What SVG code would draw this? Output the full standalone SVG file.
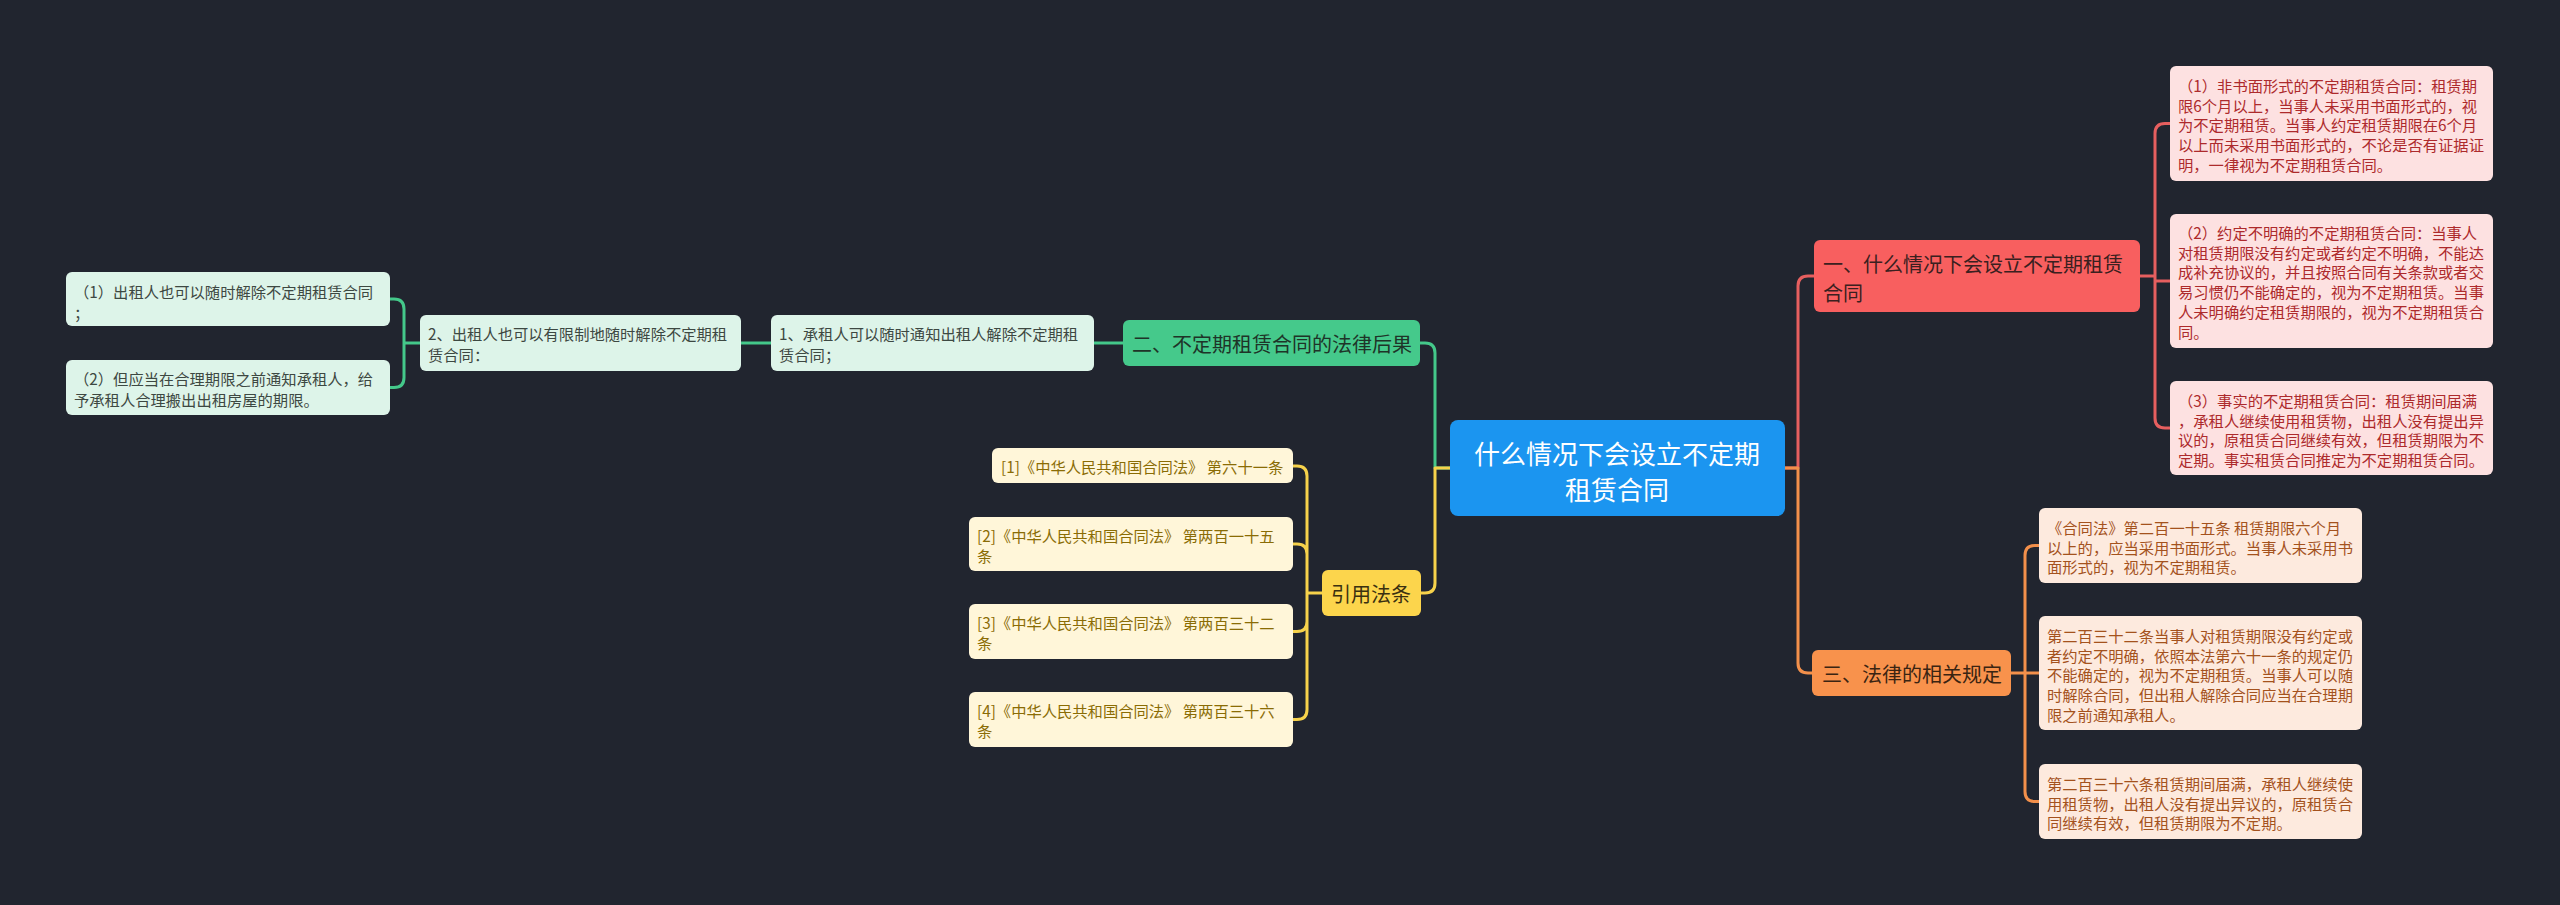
<svg xmlns="http://www.w3.org/2000/svg" width="2560" height="905" viewBox="0 0 2560 905">
<style>
text{font-family:"Noto Sans CJK SC","Noto Sans",sans-serif;dominant-baseline:central}
.c{fill:none;stroke-width:3;stroke-linecap:round;stroke-linejoin:round}
.red{stroke:#e65f5f}.org{stroke:#f3904b}.grn{stroke:#44c88a}.yel{stroke:#f6d24b}
.leaf{font-size:15.3px}
.rt{fill:#ad2a2c}.ot{fill:#a4521d}.gt{fill:#3d4842}.yt{fill:#8a6c05}
.l1{font-size:20px}
</style>
<rect width="2560" height="905" fill="#21252f"/>
<g id="connectors">
<path class="c red" d="M1785 468 H1798 V286 Q1798 276 1808 276 H1814"/>
<path class="c org" d="M1785 468 H1798 V663 Q1798 673 1808 673 H1812"/>
<path class="c red" d="M2140 276 H2155 M2155 276 V133.5 Q2155 123.5 2165 123.5 H2170 M2155 276 V418 Q2155 428 2165 428 H2170 M2155 276 V281 H2170"/>
<path class="c org" d="M2011 673 H2039 M2025 673 V555.5 Q2025 545.5 2035 545.5 H2039 M2025 673 V791.5 Q2025 801.5 2035 801.5 H2039"/>
<path class="c grn" d="M1450 468 H1435 V353 Q1435 343 1425 343 H1420"/>
<path class="c yel" d="M1450 468 H1435 V583 Q1435 593 1425 593 H1421"/>
<path class="c grn" d="M1123 343 H1094 M771 343 H741 M420 343 H404 M404 343 V309 Q404 299 394 299 H390 M404 343 V377.5 Q404 387.5 394 387.5 H390"/>
<path class="c yel" d="M1322 593 H1307 M1307 593 V476 Q1307 466 1297 466 H1293 M1307 593 V554 Q1307 544 1297 544 H1293 M1307 593 V621.5 Q1307 631.5 1297 631.5 H1293 M1307 593 V709.5 Q1307 719.5 1297 719.5 H1293"/>
</g>
<g id="root">
<rect x="1450" y="420" width="335" height="96" rx="8" fill="#1b95f0"/>
<text x="1617" y="452" font-size="26" fill="#ffffff" text-anchor="middle">什么情况下会设立不定期</text>
<text x="1617" y="488" font-size="26" fill="#ffffff" text-anchor="middle">租赁合同</text>
</g>
<g id="n1">
<rect x="1814" y="240" width="326" height="72" rx="6" fill="#f85f5f"/>
<text class="l1" x="1823" y="263" fill="#3a2020">一、什么情况下会设立不定期租赁</text>
<text class="l1" x="1823" y="292" fill="#3a2020">合同</text>
</g>
<g id="n1a">
<rect x="2170" y="66" width="323" height="115" rx="6" fill="#fde1e1"/>
<text class="leaf rt" x="2178"><tspan x="2178" y="85">（1）非书面形式的不定期租赁合同：租赁期</tspan><tspan x="2178" y="104.7">限6个月以上，当事人未采用书面形式的，视</tspan><tspan x="2178" y="124.4">为不定期租赁。当事人约定租赁期限在6个月</tspan><tspan x="2178" y="144.1">以上而未采用书面形式的，不论是否有证据证</tspan><tspan x="2178" y="163.8">明，一律视为不定期租赁合同。</tspan></text>
</g>
<g id="n1b">
<rect x="2170" y="214" width="323" height="134" rx="6" fill="#fde1e1"/>
<text class="leaf rt"><tspan x="2178" y="232">（2）约定不明确的不定期租赁合同：当事人</tspan><tspan x="2178" y="251.7">对租赁期限没有约定或者约定不明确，不能达</tspan><tspan x="2178" y="271.4">成补充协议的，并且按照合同有关条款或者交</tspan><tspan x="2178" y="291.1">易习惯仍不能确定的，视为不定期租赁。当事</tspan><tspan x="2178" y="310.8">人未明确约定租赁期限的，视为不定期租赁合</tspan><tspan x="2178" y="330.5">同。</tspan></text>
</g>
<g id="n1c">
<rect x="2170" y="381" width="323" height="94" rx="6" fill="#fde1e1"/>
<text class="leaf rt"><tspan x="2178" y="400">（3）事实的不定期租赁合同：租赁期间届满</tspan><tspan x="2178" y="419.7">，承租人继续使用租赁物，出租人没有提出异</tspan><tspan x="2178" y="439.4">议的，原租赁合同继续有效，但租赁期限为不</tspan><tspan x="2178" y="459.1">定期。事实租赁合同推定为不定期租赁合同。</tspan></text>
</g>
<g id="n3">
<rect x="1812" y="650" width="199" height="46" rx="6" fill="#f8924c"/>
<text class="l1" x="1822" y="673" fill="#3a2412">三、法律的相关规定</text>
</g>
<g id="n3a">
<rect x="2039" y="508" width="323" height="75" rx="6" fill="#fdeade"/>
<text class="leaf ot"><tspan x="2047" y="527">《合同法》第二百一十五条 租赁期限六个月</tspan><tspan x="2047" y="546.7">以上的，应当采用书面形式。当事人未采用书</tspan><tspan x="2047" y="566.4">面形式的，视为不定期租赁。</tspan></text>
</g>
<g id="n3b">
<rect x="2039" y="616" width="323" height="114" rx="6" fill="#fdeade"/>
<text class="leaf ot"><tspan x="2047" y="635">第二百三十二条当事人对租赁期限没有约定或</tspan><tspan x="2047" y="654.7">者约定不明确，依照本法第六十一条的规定仍</tspan><tspan x="2047" y="674.4">不能确定的，视为不定期租赁。当事人可以随</tspan><tspan x="2047" y="694.1">时解除合同，但出租人解除合同应当在合理期</tspan><tspan x="2047" y="713.8">限之前通知承租人。</tspan></text>
</g>
<g id="n3c">
<rect x="2039" y="764" width="323" height="75" rx="6" fill="#fdeade"/>
<text class="leaf ot"><tspan x="2047" y="783">第二百三十六条租赁期间届满，承租人继续使</tspan><tspan x="2047" y="802.7">用租赁物，出租人没有提出异议的，原租赁合</tspan><tspan x="2047" y="822.4">同继续有效，但租赁期限为不定期。</tspan></text>
</g>
<g id="n2">
<rect x="1123" y="320" width="297" height="46" rx="6" fill="#45c98b"/>
<text class="l1" x="1132" y="343" fill="#1e3428">二、不定期租赁合同的法律后果</text>
</g>
<g id="n2a">
<rect x="771" y="315" width="323" height="56" rx="6" fill="#ddf4e9"/>
<text class="leaf gt"><tspan x="779" y="333">1、承租人可以随时通知出租人解除不定期租</tspan><tspan x="779" y="354">赁合同；</tspan></text>
</g>
<g id="n2b">
<rect x="420" y="315" width="321" height="56" rx="6" fill="#ddf4e9"/>
<text class="leaf gt"><tspan x="428" y="333">2、出租人也可以有限制地随时解除不定期租</tspan><tspan x="428" y="354">赁合同：</tspan></text>
</g>
<g id="n2b1">
<rect x="66" y="272" width="324" height="54" rx="6" fill="#ddf4e9"/>
<text class="leaf gt"><tspan x="74" y="291">（1）出租人也可以随时解除不定期租赁合同</tspan><tspan x="74" y="312">；</tspan></text>
</g>
<g id="n2b2">
<rect x="66" y="360" width="324" height="55" rx="6" fill="#ddf4e9"/>
<text class="leaf gt"><tspan x="74" y="378">（2）但应当在合理期限之前通知承租人，给</tspan><tspan x="74" y="399">予承租人合理搬出出租房屋的期限。</tspan></text>
</g>
<g id="n4">
<rect x="1322" y="570" width="99" height="46" rx="6" fill="#fcd54c"/>
<text class="l1" x="1331" y="593" fill="#3a3010">引用法条</text>
</g>
<g id="n4a">
<rect x="992" y="448" width="301" height="35" rx="6" fill="#fff6d9"/>
<text class="leaf yt" x="1001" y="466">[1]《中华人民共和国合同法》 第六十一条</text>
</g>
<g id="n4b">
<rect x="969" y="517" width="324" height="54" rx="6" fill="#fff6d9"/>
<text class="leaf yt"><tspan x="977" y="535">[2]《中华人民共和国合同法》 第两百一十五</tspan><tspan x="977" y="555">条</tspan></text>
</g>
<g id="n4c">
<rect x="969" y="604" width="324" height="55" rx="6" fill="#fff6d9"/>
<text class="leaf yt"><tspan x="977" y="622">[3]《中华人民共和国合同法》 第两百三十二</tspan><tspan x="977" y="642">条</tspan></text>
</g>
<g id="n4d">
<rect x="969" y="692" width="324" height="55" rx="6" fill="#fff6d9"/>
<text class="leaf yt"><tspan x="977" y="710">[4]《中华人民共和国合同法》 第两百三十六</tspan><tspan x="977" y="730">条</tspan></text>
</g>
</svg>
